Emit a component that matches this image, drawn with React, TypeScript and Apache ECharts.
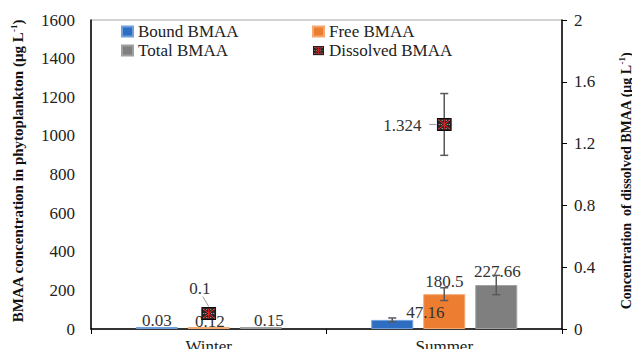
import React, { useEffect, useRef } from "react";
import * as echarts from "echarts";

const categories = ["Winter", "Summer"];
const seriesNames = ["Bound BMAA", "Free BMAA", "Total BMAA", "Dissolved BMAA"];
const boundBMAA = [0.03, 47.16];
const freeBMAA = [0.12, 180.5];
const totalBMAA = [0.15, 227.66];
const boundErr = [0, 10];
const freeErr = [0, 33];
const totalErr = [0, 50];
const dissolvedBMAA = [0.1, 1.324];
const dissolvedErr = [0, 0.2];
const dissolvedLabels = ["0.1", "1.324"];
const leftTickLabels = ["0", "200", "400", "600", "800", "1000", "1200", "1400", "1600"];
const rightTickLabels = ["0", "0.4", "0.8", "1.2", "1.6", "2"];

const FONT = "Liberation Serif";
const BAR_W = 42;
const BAR_GAP = 10;
const COLORS = ["#2E6EC2", "#ED7D31", "#7F7F7F"];
const BORDERS = ["#6FA0DC", "#F5A970", "#A0A0A0"];

const barLabelOffsets = [
  [[0, 4], [33, 3]],
  [[1, 5], [0, -2]],
  [[8, 4], [1, -3]],
];
const dissolvedLabelPos = [
  { dx: -9, dy: -25, line: [[-6, -17], [0, -7]] },
  { dx: -42, dy: 1, line: [[-15, 0], [-8, 0]] },
];

const markerSvg =
  "<svg xmlns='http://www.w3.org/2000/svg' width='15' height='13' viewBox='0 0 15 13'>" +
  "<rect x='0.5' y='0.5' width='14' height='12' fill='#262626' stroke='#000'/>" +
  "<g fill='#bdbdbd'>" +
  "<rect x='2' y='2' width='1' height='1'/><rect x='5' y='2' width='1' height='1'/><rect x='9' y='2' width='1' height='1'/><rect x='12' y='2' width='1' height='1'/>" +
  "<rect x='2' y='6' width='1' height='1'/><rect x='12' y='6' width='1' height='1'/>" +
  "<rect x='4' y='6' width='1' height='1'/><rect x='10' y='6' width='1' height='1'/>" +
  "<rect x='2' y='10' width='1' height='1'/><rect x='5' y='10' width='1' height='1'/><rect x='9' y='10' width='1' height='1'/><rect x='12' y='10' width='1' height='1'/>" +
  "</g>" +
  "<path d='M1.5 1.5L13.5 11.5M13.5 1.5L1.5 11.5M7.5 1.5V11.5' stroke='#ff2020' stroke-width='1'/>" +
  "</svg>";
const markerUrl = "data:image/svg+xml;charset=utf-8," + encodeURIComponent(markerSvg);

export default function App() {
  const ref = useRef<HTMLDivElement>(null);
  useEffect(() => {
    if (!ref.current) return;
    const chart = echarts.init(ref.current, null, { renderer: "svg" });
    const barVals = [boundBMAA, freeBMAA, totalBMAA];
    const barErrs = [boundErr, freeErr, totalErr];

    const barSeries = barVals.map((vals, si) => ({
      name: seriesNames[si],
      type: "bar",
      barWidth: BAR_W,
      barGap: (BAR_GAP / BAR_W) * 100 + "%",
      barMinHeight: 2,
      itemStyle: { color: COLORS[si], borderColor: BORDERS[si], borderWidth: 1 },
      data: vals.map((v, ci) => ({
        value: v,
        label: {
          show: true,
          position: "top",
          distance: 2,
          offset: barLabelOffsets[si][ci],
          formatter: "{t|" + String(v) + "}",
          rich: { t: { fontSize: 17, fontFamily: FONT, color: "#333" } },
        },
      })),
      z: 2,
    }));

    const errData: number[][] = [];
    barVals.forEach((vals, si) =>
      vals.forEach((v, ci) => errData.push([ci, v, barErrs[si][ci], si]))
    );

    const errSeries = {
      type: "custom",
      name: "errbars",
      data: errData,
      encode: { x: 0, y: 1 },
      z: 5,
      silent: true,
      renderItem: (params: any, api: any) => {
        const ci = api.value(0);
        const v = api.value(1);
        const e = api.value(2);
        const si = api.value(3);
        if (!e) return { type: "group", children: [] };
        const c = api.coord([ci, v]);
        const x = c[0] + (si - 1) * (BAR_W + BAR_GAP);
        const hi = api.coord([ci, v + e])[1];
        const lo = api.coord([ci, v - e])[1];
        const st = { stroke: "#595959", lineWidth: 1.5 };
        return {
          type: "group",
          children: [
            { type: "line", shape: { x1: x, y1: hi, x2: x, y2: lo }, style: st },
            { type: "line", shape: { x1: x - 4, y1: hi, x2: x + 4, y2: hi }, style: st },
            { type: "line", shape: { x1: x - 4, y1: lo, x2: x + 4, y2: lo }, style: st },
          ],
        };
      },
    };

    const dissolvedSeries = {
      type: "custom",
      name: seriesNames[3],
      yAxisIndex: 1,
      data: dissolvedBMAA.map((v, ci) => [ci, v, dissolvedErr[ci]]),
      encode: { x: 0, y: 1 },
      z: 10,
      renderItem: (params: any, api: any) => {
        const ci = api.value(0);
        const v = api.value(1);
        const e = api.value(2);
        const c = api.coord([ci, v]);
        const pos = dissolvedLabelPos[ci];
        const st = { stroke: "#595959", lineWidth: 1.5 };
        const children: any[] = [];
        if (e) {
          const hi = api.coord([ci, v + e])[1];
          const lo = api.coord([ci, v - e])[1];
          children.push(
            { type: "line", shape: { x1: c[0], y1: hi, x2: c[0], y2: lo }, style: st },
            { type: "line", shape: { x1: c[0] - 4, y1: hi, x2: c[0] + 4, y2: hi }, style: st },
            { type: "line", shape: { x1: c[0] - 4, y1: lo, x2: c[0] + 4, y2: lo }, style: st }
          );
        }
        children.push({
          type: "line",
          shape: {
            x1: c[0] + pos.line[0][0],
            y1: c[1] + pos.line[0][1],
            x2: c[0] + pos.line[1][0],
            y2: c[1] + pos.line[1][1],
          },
          style: { stroke: "#999", lineWidth: 1 },
        });
        children.push({
          type: "image",
          style: { image: markerUrl, x: c[0] - 7.5, y: c[1] - 6.5, width: 15, height: 13 },
        });
        children.push({
          type: "text",
          style: {
            text: "{t|" + dissolvedLabels[ci] + "}",
            x: c[0] + pos.dx,
            y: c[1] + pos.dy,
            align: "center",
            verticalAlign: "middle",
            rich: { t: { fontSize: 17, fontFamily: FONT, fill: "#333" } },
          },
        });
        return { type: "group", children };
      },
    };

    chart.setOption({
      animation: false,
      backgroundColor: "#fff",
      grid: {
        left: 91,
        right: 70,
        top: 20,
        bottom: 20,
        outerBoundsMode: "none",
        containLabel: false,
        show: true,
        borderColor: "#a6a6a6",
        borderWidth: 1,
      },
      legend: [
        {
          left: 116,
          top: 18,
          orient: "vertical",
          itemGap: 2,
          itemWidth: 11,
          itemHeight: 10,
          formatter: "{t|{name}}",
          textStyle: { rich: { t: { fontSize: 17, fontFamily: FONT, color: "#222" } } },
          data: [
            { name: seriesNames[0], icon: "rect" },
            { name: seriesNames[2], icon: "rect" },
          ],
        },
        {
          left: 307,
          top: 18,
          orient: "vertical",
          itemGap: 2,
          itemWidth: 11,
          itemHeight: 10,
          formatter: "{t|{name}}",
          textStyle: { rich: { t: { fontSize: 17, fontFamily: FONT, color: "#222" } } },
          data: [
            { name: seriesNames[1], icon: "rect" },
            { name: seriesNames[3], icon: "image://" + markerUrl },
          ],
        },
      ],
      xAxis: {
        type: "category",
        data: categories,
        axisLine: { lineStyle: { color: "#000", width: 1.5 } },
        axisTick: { show: true, length: 5, lineStyle: { color: "#000" } },
        axisLabel: {
          margin: 9,
          formatter: (v: string) => "{t|" + v + "}",
          rich: { t: { fontSize: 17, fontFamily: FONT, color: "#222" } },
        },
      },
      yAxis: [
        {
          type: "value",
          min: 0,
          max: 1600,
          interval: 200,
          splitLine: { show: false },
          axisLine: { show: true, lineStyle: { color: "#000", width: 1.5 } },
          axisTick: { show: false },
          axisLabel: {
            margin: 16,
            formatter: (v: number) => "{t|" + (leftTickLabels[Math.round(v / 200)] ?? String(v)) + "}",
            rich: { t: { fontSize: 17, fontFamily: FONT, color: "#222" } },
          },
        },
        {
          type: "value",
          min: 0,
          max: 2,
          interval: 0.4,
          position: "right",
          splitLine: { show: false },
          axisLine: { show: true, lineStyle: { color: "#000", width: 1.5 } },
          axisTick: { show: true, length: 5, inside: false, lineStyle: { color: "#000" } },
          axisLabel: {
            margin: 12,
            formatter: (v: number) => "{t|" + (rightTickLabels[Math.round(v / 0.4)] ?? String(v)) + "}",
            rich: { t: { fontSize: 17, fontFamily: FONT, color: "#222" } },
          },
        },
      ],
      graphic: [
        {
          type: "text",
          x: 18,
          y: 171,
          rotation: Math.PI / 2,
          style: {
            text: "{b|BMAA concentration in phytoplankton (μg L}{s|-1}{b|)}",
            align: "center",
            verticalAlign: "middle",
            rich: {
              b: { fontSize: 15, fontWeight: "bold", fontFamily: FONT, fill: "#111" },
              s: { fontSize: 9, fontWeight: "bold", fontFamily: FONT, fill: "#111", verticalAlign: "top", padding: [0, 0, 8, 0] },
            },
          },
        },
        {
          type: "text",
          x: 626,
          y: 181,
          rotation: Math.PI / 2,
          style: {
            text: "{b|Concentration  of dissolved BMAA (μg L}{s|-1}{b|)}",
            align: "center",
            verticalAlign: "middle",
            rich: {
              b: { fontSize: 14, fontWeight: "bold", fontFamily: FONT, fill: "#111" },
              s: { fontSize: 9, fontWeight: "bold", fontFamily: FONT, fill: "#111", verticalAlign: "top", padding: [0, 0, 8, 0] },
            },
          },
        },
      ],
      series: [...barSeries, errSeries, dissolvedSeries],
    });
    return () => chart.dispose();
  }, []);
  return <div ref={ref} style={{ width: 632, height: 349, position: "absolute", left: 0, top: 0 }} />;
}
